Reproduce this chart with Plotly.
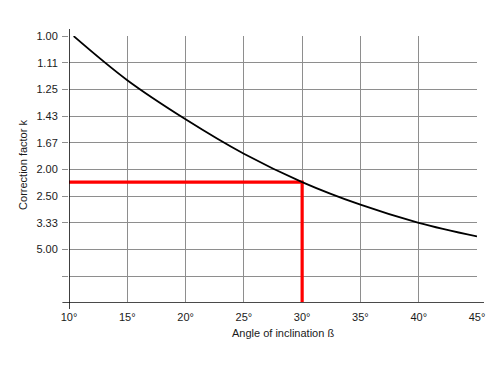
import plotly.graph_objects as go

# Data
angles = [10.4, 15, 20, 25, 30, 35, 40, 45]                    # angle of inclination, degrees
k_values = [1.00, 1.198, 1.453, 1.789, 2.208, 2.717, 3.333, 4.016]  # correction factor k
inv_k = [1.0 / k for k in k_values]                            # axis is linear in 1/k

grid_positions = [1.0, 0.9, 0.8, 0.7, 0.6, 0.5, 0.4, 0.3, 0.2, 0.1, 0.0]
grid_labels = ["1.00", "1.11", "1.25", "1.43", "1.67", "2.00", "2.50", "3.33", "5.00", "", ""]
x_ticks = [10, 15, 20, 25, 30, 35, 40, 45]
x_labels = [f"{a}°" for a in x_ticks]
x_min, x_max = 10, 45

marked_angle = 30
marked_inv = inv_k[angles.index(marked_angle)]

FONT = "Liberation Sans, Arial, Helvetica, sans-serif"
GRID = "#8e8e8e"

# page body has an 8px default margin, so the figure is offset by 8px
L, T, PW, PH = 60.5, 28, 408.5, 267.3

fig = go.Figure()

# red reading lines
fig.add_trace(go.Scatter(
    x=[x_min, marked_angle, marked_angle],
    y=[marked_inv, marked_inv, 0],
    mode="lines", line=dict(color="#ff0000", width=3.2),
    hoverinfo="skip", cliponaxis=False, showlegend=False))

# curve
fig.add_trace(go.Scatter(
    x=angles, y=inv_k, mode="lines",
    line=dict(color="#000000", width=1.8, shape="spline", smoothing=1.0),
    cliponaxis=False, showlegend=False))

# axis lines (slightly extended, like the reference)
fig.add_shape(type="line", xref="paper", yref="y", x0=-6/PW, x1=1+7/PW, y0=0, y1=0,
              line=dict(color="#4a4a4a", width=1.6), layer="above")
fig.add_shape(type="line", xref="x", yref="paper", x0=x_min, x1=x_min, y0=-6/PH, y1=1+7/PH,
              line=dict(color="#000000", width=1.5), layer="above")

fig.update_xaxes(
    range=[x_min, x_max], tickvals=x_ticks, ticktext=x_labels,
    showgrid=True, gridcolor=GRID, gridwidth=1.3,
    zeroline=False, showline=False, ticks="",
    tickfont=dict(family=FONT, size=11, color="#1a1a1a"),
    ticklabelstandoff=6, fixedrange=True)
fig.update_yaxes(
    range=[-0.0005, 1.0005], tickvals=grid_positions, ticktext=grid_labels,
    showgrid=True, gridcolor=GRID, gridwidth=1.3,
    zeroline=False, showline=False, ticks="outside", ticklen=6,
    tickcolor=GRID, tickwidth=1.3,
    tickfont=dict(family=FONT, size=11, color="#1a1a1a"),
    ticklabelstandoff=2, fixedrange=True)

fig.add_annotation(text="Angle of inclination ß", xref="paper", yref="paper",
                   x=(282.5 - 68.5) / PW, y=-(333 - 303.3) / PH, showarrow=False,
                   xanchor="center", yanchor="middle",
                   font=dict(family=FONT, size=11, color="#1a1a1a"))
fig.add_annotation(text="Correction factor k", xref="paper", yref="paper",
                   x=-(68.5 - 23) / PW, y=(303.3 - 165.5) / PH, showarrow=False,
                   textangle=-90, xanchor="center", yanchor="middle",
                   font=dict(family=FONT, size=11, color="#1a1a1a"))

fig.update_layout(
    width=500, height=368,
    margin=dict(l=L, r=500 - L - PW, t=T, b=368 - T - PH),
    plot_bgcolor="white", paper_bgcolor="white",
    showlegend=False)

fig.write_html("out.html")
